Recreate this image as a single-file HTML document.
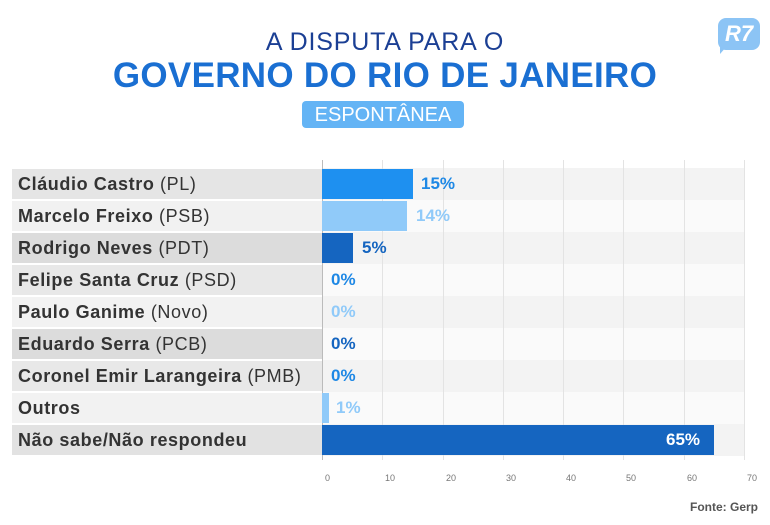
<!DOCTYPE html>
<html><head><meta charset="utf-8"><style>
body{margin:0;width:770px;height:525px;background:#fff;font-family:"Liberation Sans",sans-serif;position:relative;overflow:hidden}
.a{position:absolute}
.lab{position:absolute;left:12px;width:310px;height:30px;line-height:30px;font-size:18px;letter-spacing:0.6px;color:#333;padding-left:6px;box-sizing:border-box;white-space:nowrap}
.lab b{color:#333}
.bg{position:absolute;left:322px;width:422px;height:32px}
.bar{position:absolute;left:322px;height:30px}
.val{position:absolute;font-size:17px;font-weight:bold;line-height:30px}
.g{position:absolute;top:160px;height:300px;width:1px;background:#e3e3e3}
.t{position:absolute;top:473px;font-size:9px;color:#777}
</style></head><body>
<div class="a" style="left:0;width:770px;top:28px;text-align:center;font-size:25px;color:#1b3f94;letter-spacing:0.8px">A DISPUTA PARA O</div>
<div class="a" style="left:0;width:770px;top:56px;text-align:center;font-size:35px;font-weight:bold;color:#1a6fd2;letter-spacing:0.3px">GOVERNO DO RIO DE JANEIRO</div>
<div class="a" style="left:302px;top:101px;width:162px;height:27px;background:#64b4f5;border-radius:4px;color:#fff;font-size:20px;line-height:28px;text-align:center">ESPONTÂNEA</div>
<div class="a" style="left:718px;top:18px;width:42px;height:32px;background:#8cc4f5;border-radius:8px;color:#fff;font-weight:bold;font-size:22px;line-height:32px;text-align:center;font-style:italic">R7</div>
<div class="a" style="left:720px;top:46px;width:0;height:0;border-left:7px solid #8cc4f5;border-bottom:8px solid transparent"></div>

<div class="bg" style="top:168px;background:#f3f3f3"></div>
<div class="bg" style="top:200px;background:#fafafa"></div>
<div class="bg" style="top:232px;background:#f3f3f3"></div>
<div class="bg" style="top:264px;background:#fafafa"></div>
<div class="bg" style="top:296px;background:#f3f3f3"></div>
<div class="bg" style="top:328px;background:#fafafa"></div>
<div class="bg" style="top:360px;background:#f3f3f3"></div>
<div class="bg" style="top:392px;background:#fafafa"></div>
<div class="bg" style="top:424px;background:#f3f3f3"></div>

<div class="g" style="left:322px;background:#bbb"></div><div class="g" style="left:382px"></div><div class="g" style="left:443px"></div><div class="g" style="left:503px"></div><div class="g" style="left:563px"></div><div class="g" style="left:623px"></div><div class="g" style="left:684px"></div><div class="g" style="left:744px"></div>
<div class="t" style="left:325px">0</div><div class="t" style="left:385px">10</div><div class="t" style="left:446px">20</div><div class="t" style="left:506px">30</div><div class="t" style="left:566px">40</div><div class="t" style="left:626px">50</div><div class="t" style="left:687px">60</div><div class="t" style="left:747px">70</div>

<div class="lab" style="top:169px;background:#e5e5e5"><b>Cláudio Castro</b> (PL)</div>
<div class="lab" style="top:201px;background:#f1f1f1"><b>Marcelo Freixo</b> (PSB)</div>
<div class="lab" style="top:233px;background:#dcdcdc"><b>Rodrigo Neves</b> (PDT)</div>
<div class="lab" style="top:265px;background:#e8e8e8"><b>Felipe Santa Cruz</b> (PSD)</div>
<div class="lab" style="top:297px;background:#f2f2f2"><b>Paulo Ganime</b> (Novo)</div>
<div class="lab" style="top:329px;background:#dcdcdc"><b>Eduardo Serra</b> (PCB)</div>
<div class="lab" style="top:361px;background:#e8e8e8"><b>Coronel Emir Larangeira</b> (PMB)</div>
<div class="lab" style="top:393px;background:#f2f2f2"><b>Outros</b></div>
<div class="lab" style="top:425px;background:#e2e2e2"><b>Não sabe/Não respondeu</b></div>

<div class="bar" style="top:169px;width:91px;background:#1e90f0"></div><div class="val" style="top:169px;left:421px;color:#1e88e5">15%</div>
<div class="bar" style="top:201px;width:85px;background:#90caf9"></div><div class="val" style="top:201px;left:416px;color:#90caf9">14%</div>
<div class="bar" style="top:233px;width:31px;background:#1565c0"></div><div class="val" style="top:233px;left:362px;color:#1565c0">5%</div>
<div class="val" style="top:265px;left:331px;color:#1e88e5">0%</div>
<div class="val" style="top:297px;left:331px;color:#90caf9">0%</div>
<div class="val" style="top:329px;left:331px;color:#1565c0">0%</div>
<div class="val" style="top:361px;left:331px;color:#1e88e5">0%</div>
<div class="bar" style="top:393px;width:7px;background:#90caf9"></div><div class="val" style="top:393px;left:336px;color:#90caf9">1%</div>
<div class="bar" style="top:425px;width:392px;background:#1565c0"></div><div class="val" style="top:425px;left:666px;color:#fff">65%</div>

<div class="a" style="left:690px;top:500px;font-size:12px;font-weight:bold;color:#555">Fonte: Gerp</div>
</body></html>
